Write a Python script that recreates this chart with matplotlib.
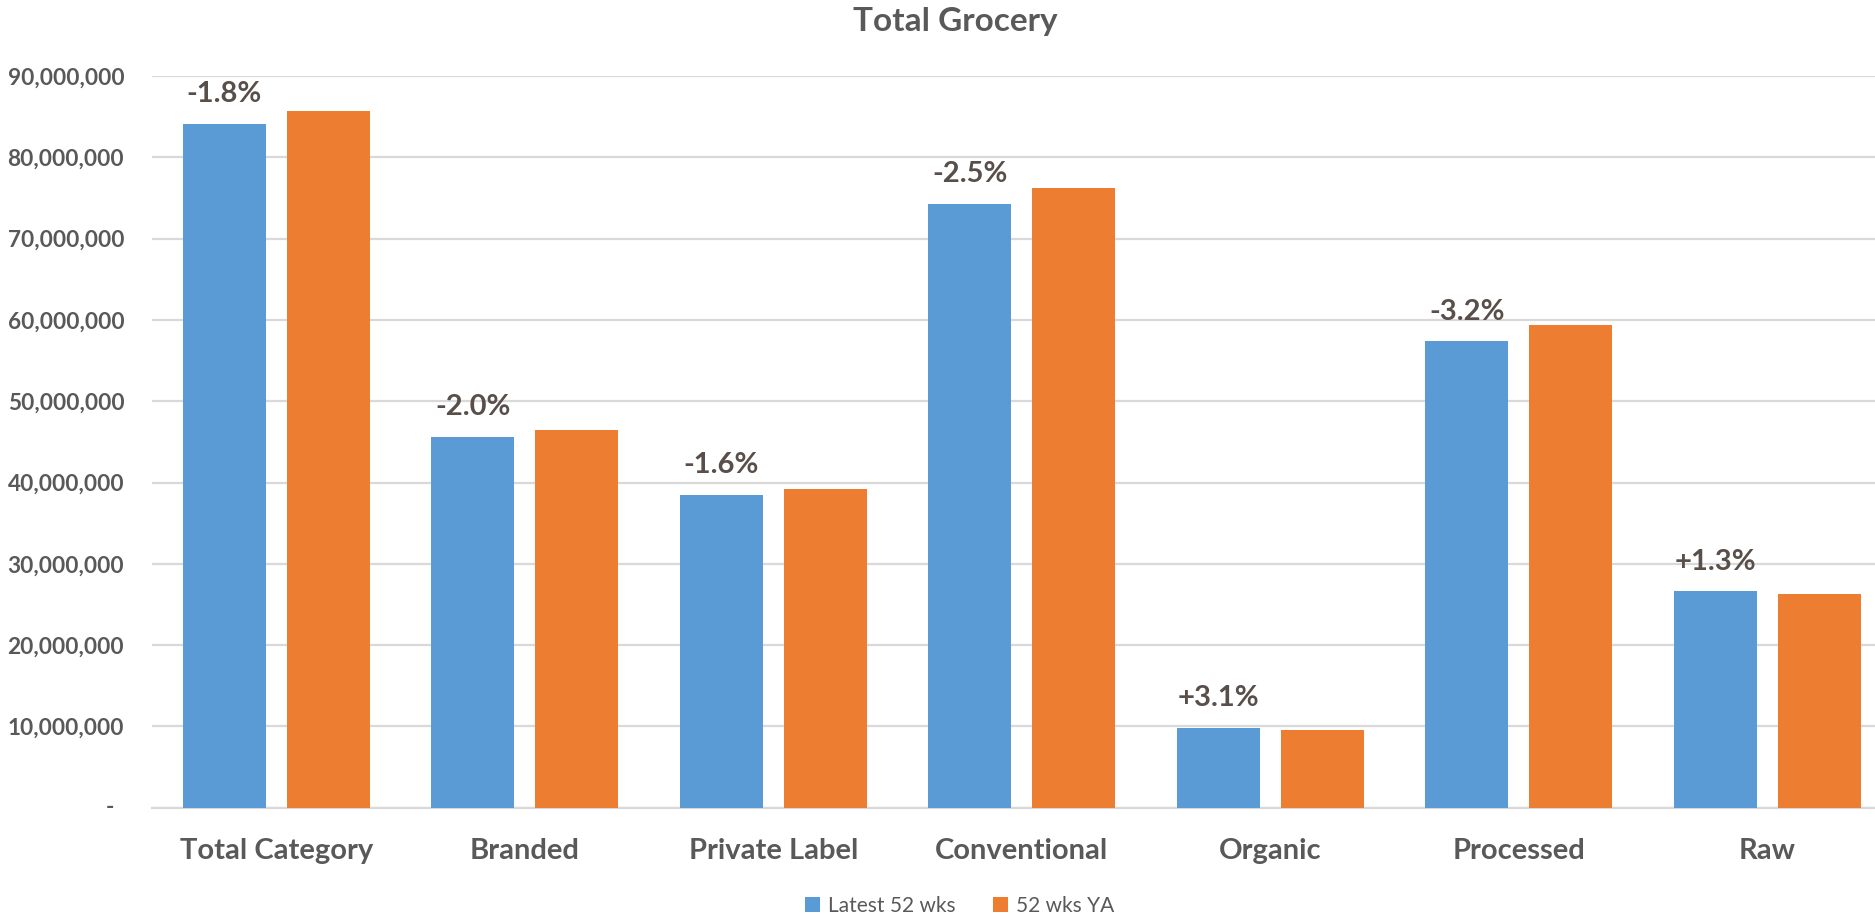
import matplotlib
matplotlib.use("Agg")
import matplotlib.pyplot as plt
from matplotlib.ticker import FuncFormatter
import numpy as np

categories = ["Total Category", "Branded", "Private Label", "Conventional", "Organic", "Processed", "Raw"]
latest_52 = [84.1e6, 45.6e6, 38.5e6, 74.3e6, 9.8e6, 57.4e6, 26.6e6]
ya_52 = [85.7e6, 46.5e6, 39.15e6, 76.2e6, 9.5e6, 59.4e6, 26.3e6]
pct_labels = ["-1.8%", "-2.0%", "-1.6%", "-2.5%", "+3.1%", "-3.2%", "+1.3%"]
series_names = ["Latest 52 wks", "52 wks YA"]
y_ticks = [0, 10e6, 20e6, 30e6, 40e6, 50e6, 60e6, 70e6, 80e6, 90e6]

BLUE = "#5B9BD5"
ORANGE = "#ED7D31"
GRAY = "#595959"
LABEL = "#594F4A"
GRID = "#D9D9D9"

plt.rcParams['font.family'] = ['Lato', 'DejaVu Sans']

fig = plt.figure(figsize=(18.75, 9.16), dpi=100)
ax = fig.add_axes([152/1875, 108.3/916, (1875-152)/1875, (807.7-76)/916])

x = np.arange(len(categories))
w = 0.334
off = 0.209
ax.bar(x - off, latest_52, width=w, color=BLUE, label=series_names[0], zorder=3)
ax.bar(x + off, ya_52, width=w, color=ORANGE, label=series_names[1], zorder=3)

for xi, v, t in zip(x, latest_52, pct_labels):
    ax.annotate(t, (xi - off, v), xytext=(0, 15.5), textcoords="offset points",
                ha="center", va="baseline", fontsize=21, fontweight="bold", color=LABEL)

ax.set_xlim(-0.5, 6.433)
ax.set_ylim(0, 90e6)
ax.set_yticks(y_ticks)
ax.yaxis.set_major_formatter(FuncFormatter(lambda v, p: "" if v == 0 else f"{v:,.0f}"))
ax.set_xticks(x)
ax.set_xticklabels(categories)
ax.grid(axis="y", color=GRID, linewidth=1.6, zorder=0)
ax.set_axisbelow(True)
for s in ["top", "right", "left"]:
    ax.spines[s].set_visible(False)
ax.spines["bottom"].set_color(GRID)
ax.spines["bottom"].set_linewidth(1.6)
ax.tick_params(axis="both", length=0)
ax.tick_params(axis="y", pad=20, labelsize=16.3, labelcolor=GRAY)
ax.tick_params(axis="x", pad=22, labelsize=21, labelcolor=GRAY)
for lab in ax.get_yticklabels() + ax.get_xticklabels():
    lab.set_fontweight("bold")

# zero label of accounting format: a dash set in from the right edge
ax.annotate("-", (0, 0), xycoords=("axes fraction", "data"), xytext=(-42, 0),
            textcoords="offset pixels", ha="center", va="center",
            fontsize=16.3, fontweight="bold", color=GRAY)

fig.text(955/1875, 1 - 22/916, "Total Grocery", ha="center", va="center",
         fontsize=24, fontweight="bold", color=GRAY)

leg = fig.legend(loc="center", bbox_to_anchor=(960/1875, 1 - 906/916), ncol=2, frameon=False,
                 fontsize=15, handlelength=0.7, handleheight=0.7, handletextpad=0.4,
                 columnspacing=1.8, labelcolor=GRAY)

fig.savefig("out.png", dpi=100)
